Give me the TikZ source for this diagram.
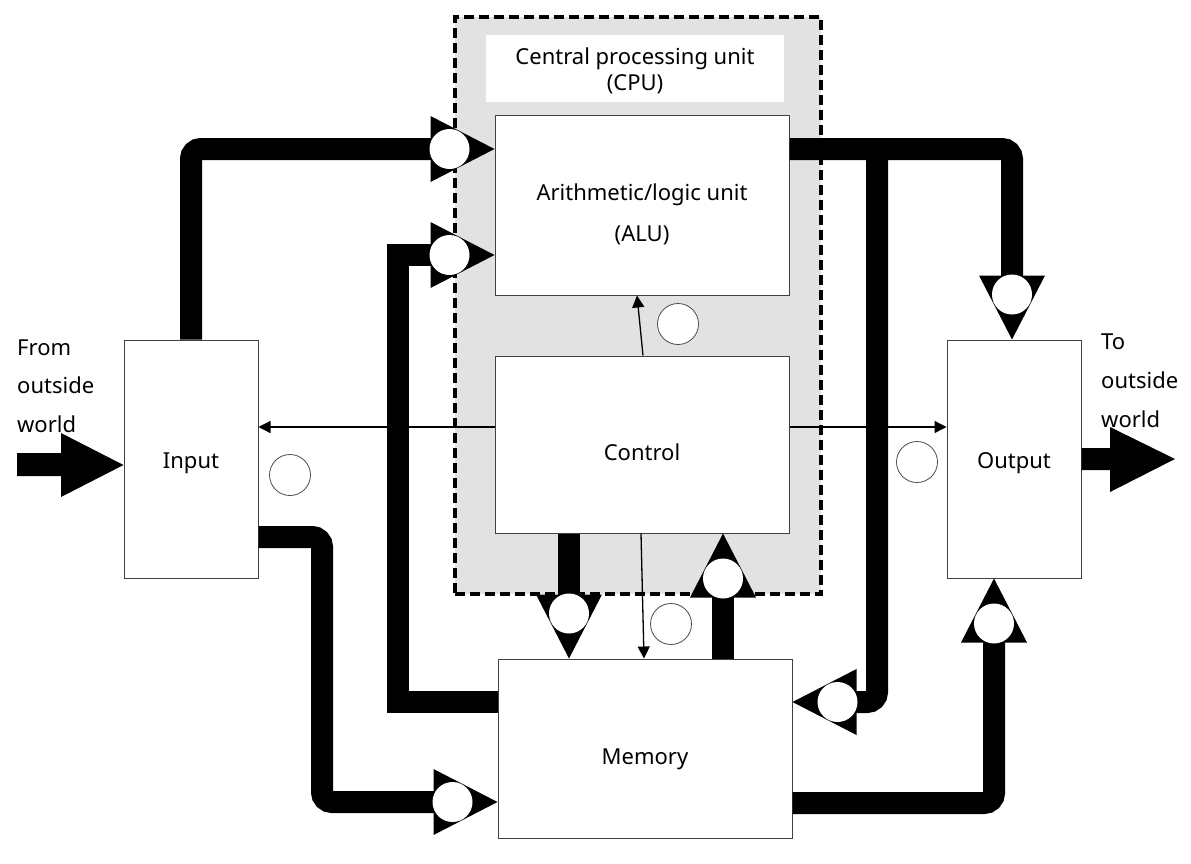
\documentclass[tikz,border=0pt]{standalone}
\usepackage{fontspec}
\setmainfont{Noto Sans}
\usetikzlibrary{arrows.meta}
\definecolor{cpubg}{RGB}{226,226,226}
\begin{document}
\begin{tikzpicture}[x=1pt,y=-1pt,
  box/.style={draw=black!75,line width=1pt,fill=white,inner sep=0pt,rectangle},
  txt/.style={font=\fontsize{22}{26}\selectfont,inner sep=0pt,anchor=base},
  txtl/.style={txt,anchor=base west},
  bus/.style={line width=22pt,draw=black},
  hollow/.style={draw=black!70,line width=0.8pt,fill=white},
  thinarrow/.style={line width=1.3pt,-{Triangle[length=12pt,width=12pt]}},
  valve/.pic={\fill[black] (0pt,0pt) -- (-64pt,33pt) -- (-64pt,-33pt) -- cycle;
              \fill[white] (-45pt,0pt) circle[radius=20pt];}
]
\useasboundingbox (0,0) rectangle (1191,863);
\fill[white] (0,0) rectangle (1191,863);

% CPU region
\node[rectangle,inner sep=0pt,minimum width=366pt,minimum height=577pt,fill=cpubg,draw=black,
      dash pattern=on 10pt off 5pt,line width=3.5pt] (cpu) at (638,305.5) {};
\node[rectangle,inner sep=0pt,fill=white,minimum width=298pt,minimum height=67pt] (cpulbl) at (635,68.5) {};

% boxes
\node[box,minimum width=294pt,minimum height=180pt] (alu) at (642,205) {};
\node[box,minimum width=294pt,minimum height=177pt] (control) at (642,444.5) {};
\node[box,minimum width=294pt,minimum height=179pt] (memory) at (645,748.5) {};
\node[box,minimum width=134pt,minimum height=238pt] (input) at (191,459) {};
\node[box,minimum width=134pt,minimum height=238pt] (output) at (1014,459) {};

% thick buses
\draw[bus,rounded corners=10pt,shorten >=50pt] (input.north) |- (alu.west |- 0,149);
\draw[bus,shorten >=50pt] (memory.west |- 0,702) -| (398,255) -- (alu.west |- 0,255);
\draw[bus,rounded corners=10pt,shorten >=50pt] (input.east |- 0,537) -| (322,802) -- (memory.west |- 0,802);
\coordinate (j) at (877,149);
\draw[bus,rounded corners=10pt,shorten >=50pt] (alu.east |- 0,149) -| (1012,0 |- output.north);
\draw[bus,rounded corners=10pt,shorten >=50pt] (j) |- (memory.east |- 0,702);
\draw[bus,rounded corners=10pt,shorten >=50pt] (memory.east |- 0,803) -| (994,0 |- output.south);
\draw[bus,shorten >=50pt] (569,0 |- control.south) -- (569,0 |- memory.north);
\draw[bus,shorten >=50pt] (723,0 |- memory.north) -- (723,0 |- control.south);

% valves (arrowheads with circles)
\pic at (alu.west |- 0,149) {valve};
\pic at (alu.west |- 0,255) {valve};
\pic at (memory.west |- 0,802) {valve};
\pic[rotate=-90] at (1012,0 |- output.north) {valve};
\pic[rotate=180] at (memory.east |- 0,702) {valve};
\pic[rotate=90] at (994,0 |- output.south) {valve};
\pic[rotate=-90] at (569,0 |- memory.north) {valve};
\pic[rotate=90] at (723,0 |- control.south) {valve};

% big external arrows
\coordinate (inTip) at (input.west |- 0,465);
\fill[black] (17,453) -- (61,453) -- (61,433) -- (inTip) -- (61,497) -- (61,476) -- (17,476) -- cycle;
\coordinate (outBase) at (output.east |- 0,448);
\fill[black] (outBase) -- (1110,448) -- (1110,427) -- (1175,459) -- (1110,492) -- (1110,470) -- (output.east |- 0,470) -- cycle;

% thin control arrows
\draw[thinarrow] (control.west |- 0,427) -- (input.east |- 0,427);
\draw[thinarrow] (control.east |- 0,427) -- (output.west |- 0,427);
\draw[thinarrow] (643,0 |- control.north) -- (637,0 |- alu.south);
\draw[thinarrow] (641,0 |- control.south) -- (644,0 |- memory.north);

% hollow circles
\draw[hollow] (678,324) circle[radius=20.5pt];
\draw[hollow] (290,475) circle[radius=20.5pt];
\draw[hollow] (917,462) circle[radius=20.5pt];
\draw[hollow] (671,624) circle[radius=20.5pt];

% texts
\node[txt] (cput1) at (635,64) {Central processing unit};
\node[txt] (cput2) at (635,90) {(CPU)};
\node[txt] (alut1) at (642,200) {Arithmetic/logic unit};
\node[txt] (alut2) at (642,241) {(ALU)};
\node[txt] (controlt) at (642,460) {Control};
\node[txt] (memoryt) at (645,764) {Memory};
\node[txt] (inputt) at (191,468) {Input};
\node[txt] (outputt) at (1014,468) {Output};
\node[txtl] (from1) at (17,355) {From};
\node[txtl] (from2) at (17,393) {outside};
\node[txtl] (from3) at (17,432) {world};
\node[txtl] (to1) at (1101,349) {To};
\node[txtl] (to2) at (1101,388) {outside};
\node[txtl] (to3) at (1101,427) {world};
\end{tikzpicture}
\end{document}
